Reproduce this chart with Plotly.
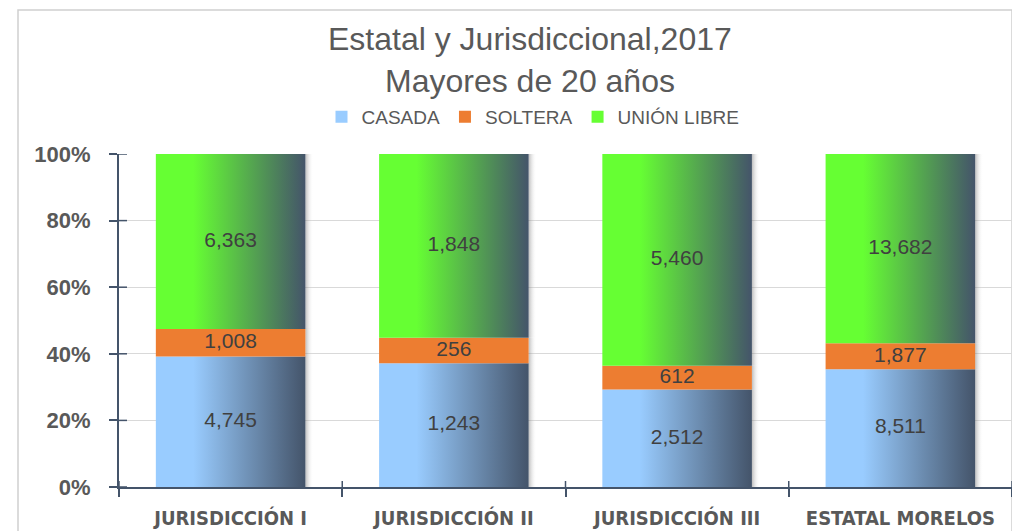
import plotly.graph_objects as go

categories = ["JURISDICCIÓN I", "JURISDICCIÓN II", "JURISDICCIÓN III", "ESTATAL MORELOS"]
series_names = ["CASADA", "SOLTERA", "UNIÓN LIBRE"]
casada = [4745, 1243, 2512, 8511]
soltera = [1008, 256, 612, 1877]
union_libre = [6363, 1848, 5460, 13682]
y_ticks = [0, 20, 40, 60, 80, 100]
title_lines = ["Estatal y Jurisdiccional,2017", "Mayores de 20 años"]

series_values = [casada, soltera, union_libre]
base_colors = ["#99CCFF", "#ED7D31", "#66FF33"]
dark = "#44546A"
gradient = [True, False, True]
bar_w = 0.67

# figure-pixel layout (page has an 8px body offset)
W, H = 1020, 531
ML, MR, MT, MB = 111, 16, 146, 52
PW, PH = W - ML - MR, H - MT - MB


def px_x(fx):
    return (fx - ML) / PW


def px_y(fy):
    return (H - MB - fy) / PH


fig = go.Figure()
totals = [sum(v[i] for v in series_values) for i in range(len(categories))]

bottoms = [0.0] * len(categories)
for s, (name, vals) in enumerate(zip(series_names, series_values)):
    mids = []
    for i, v in enumerate(vals):
        pct = v / totals[i] * 100
        b = bottoms[i]
        t = b + pct
        x0, x1 = i - bar_w / 2, i + bar_w / 2
        # soft shadow on the right side
        fig.add_trace(go.Scatter(
            x=[x1, x1 + 0.035, x1 + 0.035, x1, x1], y=[b, b, t, t, b],
            fill="toself", mode="lines", line=dict(width=0),
            fillgradient=dict(type="horizontal",
                              colorscale=[[0, "rgba(110,110,110,0.45)"], [1, "rgba(255,255,255,0)"]],
                              start=x1, stop=x1 + 0.035),
            showlegend=False, hoverinfo="skip"))
        kw = {}
        if gradient[s]:
            kw["fillgradient"] = dict(type="horizontal",
                                      colorscale=[[0, base_colors[s]], [0.25, base_colors[s]], [1, dark]],
                                      start=x0, stop=x1)
        else:
            kw["fillcolor"] = base_colors[s]
        fig.add_trace(go.Scatter(
            x=[x0, x1, x1, x0, x0], y=[b, b, t, t, b],
            fill="toself", mode="lines", line=dict(width=0),
            name=name, legendgroup=name, showlegend=False,
            hoverinfo="text", text=f"{categories[i]}: {v:,}", **kw))
        mids.append((b + t) / 2)
        bottoms[i] = t
    fig.add_trace(go.Scatter(
        x=list(range(len(categories))), y=mids, mode="text",
        text=[f"{v:,}" for v in vals],
        textfont=dict(family="Liberation Sans, Arial", size=21, color="#404040"),
        showlegend=False, hoverinfo="skip"))

# legend entries (square swatches)
for s, name in enumerate(series_names):
    fig.add_trace(go.Bar(x=[None], y=[None], name=name, legendgroup=name,
                         marker=dict(color=base_colors[s], line=dict(width=0)),
                         showlegend=True, hoverinfo="skip"))

annotations = []
for k, line in enumerate(title_lines):
    annotations.append(dict(text=line, xref="paper", yref="paper",
                            x=px_x(522), y=px_y([31, 73][k]),
                            xanchor="center", yanchor="middle", showarrow=False,
                            font=dict(family="Liberation Sans, Arial", size=32, color="#595959")))

shapes = [dict(type="rect", xref="paper", yref="paper",
               x0=px_x(10), x1=1.0, y0=-0.3, y1=px_y(2),
               line=dict(color="#D0D0D0", width=1.5), layer="below")]
# inner half of the crossing tick marks
for t in y_ticks:
    shapes.append(dict(type="line", xref="paper", yref="y", x0=0, x1=8 / PW, y0=t, y1=t,
                       line=dict(color=dark, width=1.5)))
for b in [-0.5, 0.5, 1.5, 2.5, 3.5]:
    shapes.append(dict(type="line", xref="x", yref="paper", x0=b, x1=b, y0=0, y1=6 / PH,
                       line=dict(color=dark, width=1.5)))

fig.update_layout(
    width=W, height=H,
    margin=dict(l=ML, r=MR, t=MT, b=MB, autoexpand=False),
    paper_bgcolor="white", plot_bgcolor="white",
    annotations=annotations, shapes=shapes,
    legend=dict(orientation="h", x=px_x(525), xanchor="center",
                y=px_y(109), yanchor="middle",
                font=dict(family="Liberation Sans, Arial", size=19, color="#595959"),
                itemwidth=30, traceorder="normal"),
    xaxis=dict(range=[-0.5, 3.5], showgrid=False, zeroline=False,
               tickmode="array", tickvals=list(range(len(categories))), ticktext=categories,
               ticks="", showline=True, linecolor=dark, linewidth=2, ticklabelstandoff=12,
               tickfont=dict(family="Liberation Sans Narrow, DejaVu Sans Condensed, Arial", size=20,
                             color="#595959", weight="bold"),
               minor=dict(tickmode="array", tickvals=[-0.5, 0.5, 1.5, 2.5, 3.5],
                          ticks="outside", ticklen=8, tickcolor=dark, tickwidth=1.5, showgrid=False),
               fixedrange=True),
    yaxis=dict(range=[0, 100], tickmode="array", tickvals=y_ticks,
               ticktext=[f"{t}%" for t in y_ticks],
               showgrid=True, gridcolor="#D9D9D9", gridwidth=1, zeroline=False,
               showline=True, linecolor=dark, linewidth=2,
               ticks="outside", ticklen=8, tickcolor=dark, tickwidth=1.5, ticklabelstandoff=14,
               tickfont=dict(family="Liberation Sans, Arial", size=22, color="#595959", weight="bold"),
               fixedrange=True),
)

fig.write_html("out.html")
